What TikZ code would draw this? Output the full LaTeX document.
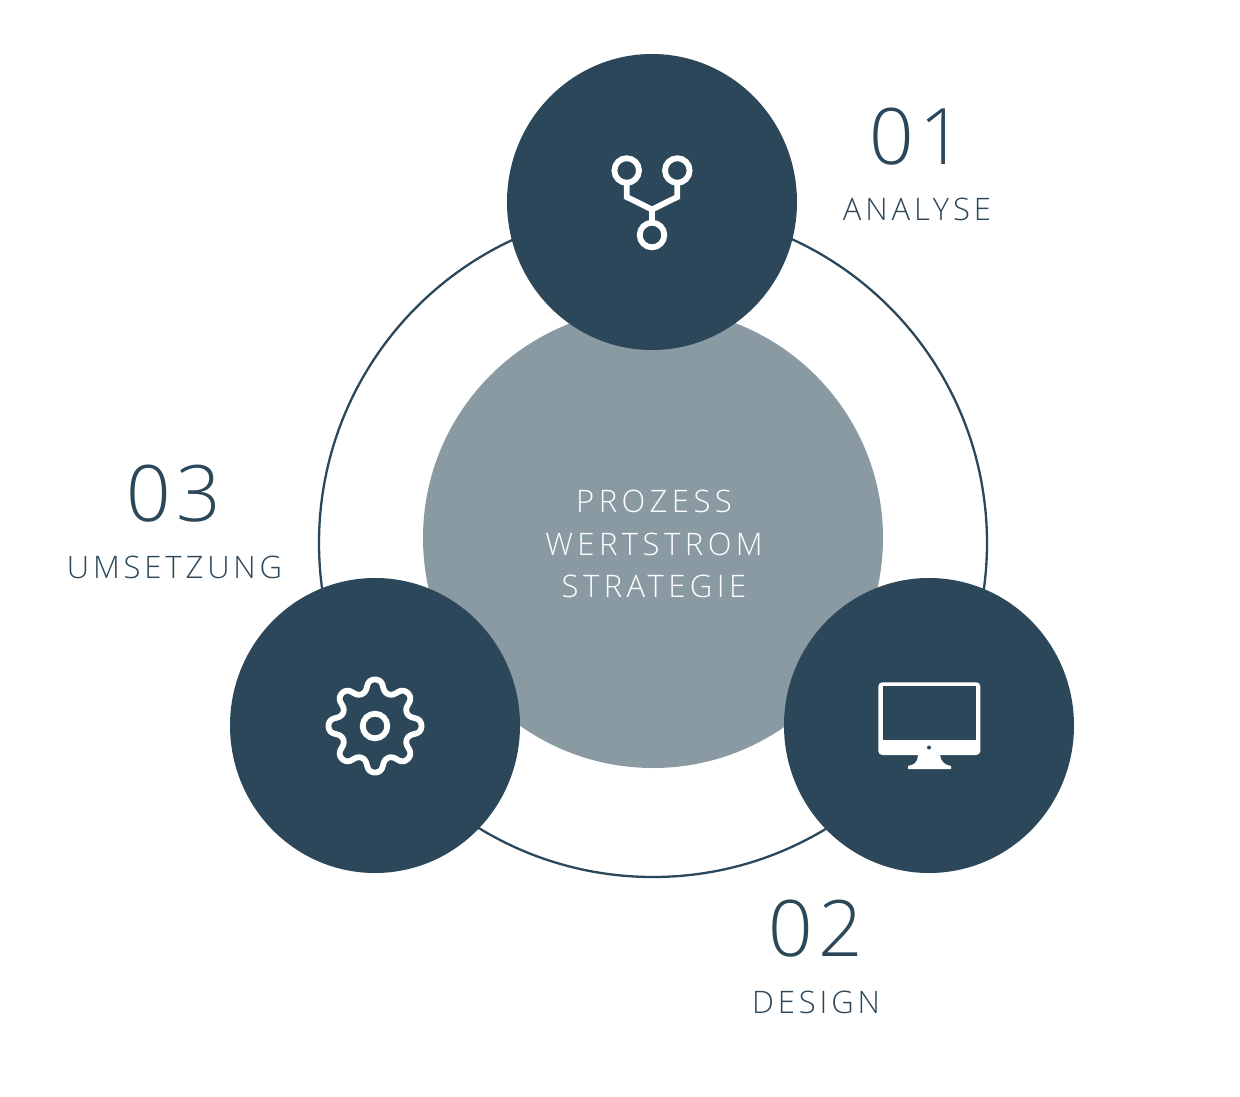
\documentclass[tikz,border=0pt]{standalone}
\usepackage{fontspec}
\setmainfont{Open Sans}[UprightFont=* Light,LetterSpace=12.5]
\newfontfamily\midfont{Open Sans}[UprightFont=* Light,LetterSpace=14.5]
\newfontfamily\numfont{Open Sans}[UprightFont=* Light,LetterSpace=7]
\definecolor{deep}{HTML}{2C4759}
\definecolor{midgrey}{HTML}{8A9AA3}
\tikzset{
 disc/.style={fill=deep,draw=none},
 icon/.style={draw=white,line width=5.8pt,fill=none},
 num/.style={text=deep,font=\fontsize{78}{78}\selectfont\numfont,anchor=center,inner sep=0pt},
 lab/.style={text=deep,font=\fontsize{31}{31}\selectfont,anchor=center,inner sep=0pt},
 mid/.style={text=white,font=\fontsize{31}{31}\selectfont\midfont,anchor=center,inner sep=0pt},
}
\begin{document}
\begin{tikzpicture}[x=1pt,y=-1pt]
\useasboundingbox (0,0) rectangle (1240,1097);
\fill[white] (0,0) rectangle (1240,1097);
\draw[deep,line width=2.3pt] (653,543) circle[radius=334];
\fill[midgrey] (653,538) circle[radius=230];
\fill[disc] (652,202) ellipse[x radius=145,y radius=148];
\fill[disc] (375,725.5) ellipse[x radius=145,y radius=147.5];
\fill[disc] (929,725.5) ellipse[x radius=145,y radius=147.5];
% branch icon
\draw[icon] (626.7,170.5) circle[radius=12.3];
\draw[icon] (677.3,170.5) circle[radius=12.3];
\draw[icon] (652,235) circle[radius=12.3];
\draw[icon,line join=miter] (626.7,183) -- (626.7,197) -- (652,209.5) -- (677.3,197) -- (677.3,183);
\draw[icon] (652,209.5) -- (652,222.5);
% gear icon
\draw[icon,line join=round] plot[domain=0:360,samples=361] ({375+(40.5+6*cos(8*\x))*cos(\x+90+1.5*sin(16*\x))},{726-(40.5+6*cos(8*\x))*sin(\x+90+1.5*sin(16*\x))}) -- cycle;
\draw[icon] (375,726) circle[radius=12.3];
% monitor icon
\fill[white,rounded corners=4pt] (878.3,682.3) rectangle (980.3,755);
\fill[deep] (882.7,686.3) rectangle (975.7,740);
\fill[deep] (929,747.5) circle[radius=2];
\fill[white] (918,755) .. controls (918,762) and (914,765) .. (908,766) -- (908,769) -- (951,769) -- (951,766) .. controls (945,765) and (941,762) .. (940,755) -- cycle;
% text
\node[num] (n1) at (917,137) {01};
\node[lab] (l1) at (917,209.5) {ANALYSE};
\node[num] (n3) at (174,494) {03};
\node[lab] (l3) at (174.5,567.5) {UMSETZUNG};
\node[num] (n2) at (816,929) {02};
\node[lab] (l2) at (816,1002.5) {DESIGN};
\node[mid] (m1) at (654,501.5) {PROZESS};
\node[mid] (m2) at (654,544.5) {WERTSTROM};
\node[mid] (m3) at (654,586.5) {STRATEGIE};
\end{tikzpicture}
\end{document}
